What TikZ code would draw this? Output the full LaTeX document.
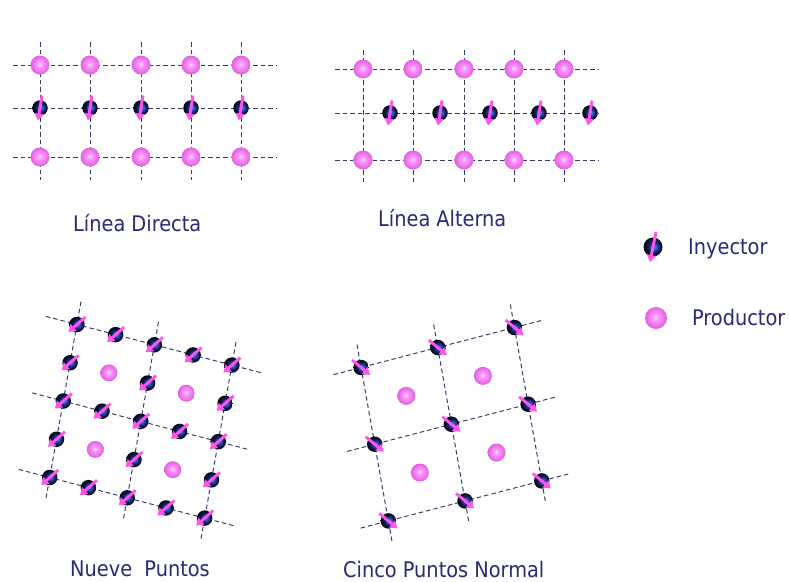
\documentclass[tikz,border=0pt]{standalone}
\usepackage{fontspec}
\setmainfont{DejaVu Sans Condensed}
\usetikzlibrary{arrows.meta,calc}

\definecolor{txt}{RGB}{42,42,120}
\definecolor{gridc}{RGB}{55,55,105}
\definecolor{arr}{RGB}{255,85,235}
\definecolor{prodA}{RGB}{255,210,255}
\definecolor{prodB}{RGB}{248,155,248}
\definecolor{prodC}{RGB}{238,115,238}
\definecolor{prodD}{RGB}{222,98,222}
\definecolor{injA}{RGB}{75,130,245}
\definecolor{injB}{RGB}{35,70,170}
\definecolor{injC}{RGB}{14,22,65}
\definecolor{injD}{RGB}{5,8,25}

\pgfdeclareradialshading{prodshade}{\pgfpoint{-1bp}{2bp}}{%
  color(0bp)=(prodA); color(7bp)=(prodB); color(18bp)=(prodC);
  color(25bp)=(prodD); color(50bp)=(prodD)}
\pgfdeclareradialshading{injshade}{\pgfpoint{3bp}{1bp}}{%
  color(0bp)=(injA); color(9bp)=(injB); color(17bp)=(injC);
  color(25bp)=(injD); color(50bp)=(injD)}

\tikzset{
  prod/.style={circle, inner sep=0pt, minimum size=19pt, shade, shading=prodshade},
  inj/.style={circle, inner sep=0pt, minimum size=15.5pt, shade, shading=injshade},
  injarr/.style={draw=arr, line width=2.9pt, -{Triangle[length=7pt,width=9pt]}},
  gridline/.style={draw=gridc, line width=0.95pt, dash pattern=on 4.5pt off 3pt},
  lbl/.style={text=txt, font=\fontsize{21.5}{24}\selectfont, anchor=base west, inner sep=0pt},
}

% name, x, y, dx, dy  (arrow from centre+(dx,dy) to centre-(dx,dy))
\newcommand{\injector}[6][]{%
  \node[inj,#1] (#2) at (#3,#4) {};
  \draw[injarr] ($(#2.center)+(#5,#6)$) -- ($(#2.center)-(#5,#6)$);
}

\begin{document}
\begin{tikzpicture}[x=1pt,y=-1pt]
\useasboundingbox[fill=white] (0,0) rectangle (789,581);

% ---------------- Linea Directa ----------------
\foreach \c in {40,90,141,191,241} \draw[gridline] (\c,42) -- (\c,180);
\foreach \r in {65,108,157} \draw[gridline] (13,\r) -- (277,\r);
\foreach \c [count=\i] in {40,90,141,191,241} {
  \node[prod] (dA-\i) at (\c,65) {};
  \node[prod] (dC-\i) at (\c,157) {};
  \injector{dB-\i}{\c}{108}{2}{-12.5}
}
\node[lbl] (t1) at (73,231.5) {Línea Directa};

% ---------------- Linea Alterna ----------------
\foreach \c in {363,413,464,514,564} \draw[gridline] (\c,50) -- (\c,182);
\foreach \r in {69,113,160} \draw[gridline] (335,\r) -- (598,\r);
\foreach \c [count=\i] in {363,413,464,514,564} {
  \node[prod] (aA-\i) at (\c,69) {};
  \node[prod] (aC-\i) at (\c,160) {};
}
\foreach \c [count=\i] in {390,440,490,539,590} {
  \injector{aB-\i}{\c}{113}{2}{-12.5}
}
\node[lbl] (t2) at (378,226) {Línea Alterna};

% ---------------- Legend ----------------
\injector[minimum size=19pt]{legI}{653}{247}{3}{-15}
\node[prod, minimum size=22pt] (legP) at (656,318) {};
\node[lbl] (t5) at (688,254) {Inyector};
\node[lbl] (t6) at (692,325) {Productor};

% ---------------- Nueve Puntos ----------------
% origin (76.9,324.5), u=(77.5,20.3), v=(-13.6,76.5)
\foreach \k in {0,1,2} {
  \draw[gridline] ({76.9-0.4*77.5+\k*(-13.6)},{324.5-0.4*20.3+\k*76.5})
               -- ({76.9+2.38*77.5+\k*(-13.6)},{324.5+2.38*20.3+\k*76.5});
  \draw[gridline] ({76.9+\k*77.5-0.3*(-13.6)},{324.5+\k*20.3-0.3*76.5})
               -- ({76.9+\k*77.5+2.27*(-13.6)},{324.5+\k*20.3+2.27*76.5});
}
\foreach \a in {0,...,4} {
  \foreach \b in {0,...,4} {
    \pgfmathsetmacro\px{76.9+\a*0.5*77.5+\b*0.5*(-13.6)}
    \pgfmathsetmacro\py{324.5+\a*0.5*20.3+\b*0.5*76.5}
    \pgfmathtruncatemacro\both{mod(\a,2)*mod(\b,2)}
    \ifnum\both=0
      \injector{n-\a-\b}{\px}{\py}{8.5}{-7.5}
    \else
      \node[prod, minimum size=17pt] (np-\a-\b) at (\px,\py) {};
    \fi
  }
}
\node[lbl] (t3) at (70,576.5) {Nueve\ \ Puntos};

% ---------------- Cinco Puntos Normal ----------------
% origin (361.05,367.5), u=(76.7,-20.0), v=(13.65,76.7)
\foreach \k in {0,1,2} {
  \draw[gridline] ({361.05-0.36*76.7+\k*13.65},{367.5-0.36*(-20.0)+\k*76.7})
               -- ({361.05+2.38*76.7+\k*13.65},{367.5+2.38*(-20.0)+\k*76.7});
  \draw[gridline] ({361.05+\k*76.7-0.3*13.65},{367.5+\k*(-20.0)-0.3*76.7})
               -- ({361.05+\k*76.7+2.27*13.65},{367.5+\k*(-20.0)+2.27*76.7});
}
\foreach \a in {0,1,2} {
  \foreach \b in {0,1,2} {
    \pgfmathsetmacro\px{361.05+\a*76.7+\b*13.65}
    \pgfmathsetmacro\py{367.5+\a*(-20.0)+\b*76.7}
    \injector{c-\a-\b}{\px}{\py}{-9}{-7.5}
  }
}
\foreach \a in {0,1} {
  \foreach \b in {0,1} {
    \pgfmathsetmacro\px{361.05+(\a+0.5)*76.7+(\b+0.5)*13.65}
    \pgfmathsetmacro\py{367.5+(\a+0.5)*(-20.0)+(\b+0.5)*76.7}
    \node[prod, minimum size=18pt] (cp-\a-\b) at (\px,\py) {};
  }
}
\node[lbl] (t4) at (343,577) {Cinco Puntos Normal};
\end{tikzpicture}
\end{document}
